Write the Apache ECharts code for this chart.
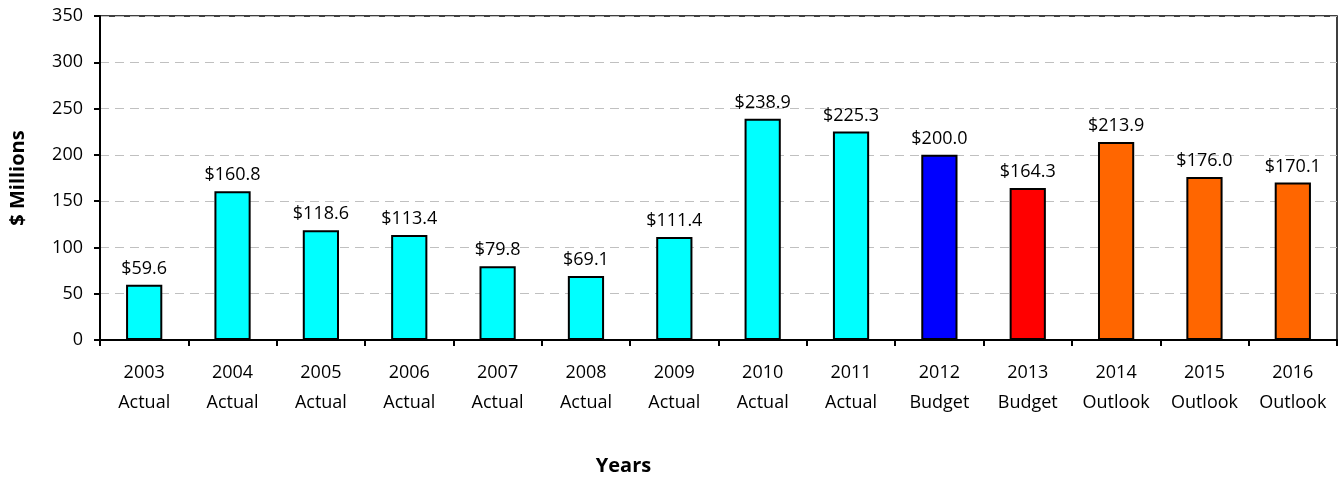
<!DOCTYPE html>
<html>
<head>
<meta charset="utf-8">
<script src="https://cdn.jsdelivr.net/npm/echarts@6/dist/echarts.min.js"></script>
<style>
  html, body { margin: 0; padding: 0; background: #fff; }
  #chart { width: 1341px; height: 477px; }
</style>
</head>
<body>
<div id="chart"></div>
<script>
// Capital spending by year, $ millions
const years = ['2003', '2004', '2005', '2006', '2007', '2008', '2009', '2010', '2011', '2012', '2013', '2014', '2015', '2016'];
const kinds = ['Actual', 'Actual', 'Actual', 'Actual', 'Actual', 'Actual', 'Actual', 'Actual', 'Actual', 'Budget', 'Budget', 'Outlook', 'Outlook', 'Outlook'];
const values = [59.6, 160.8, 118.6, 113.4, 79.8, 69.1, 111.4, 238.9, 225.3, 200.0, 164.3, 213.9, 176.0, 170.1];
const barColors = ['#00FFFF', '#00FFFF', '#00FFFF', '#00FFFF', '#00FFFF', '#00FFFF', '#00FFFF', '#00FFFF', '#00FFFF', '#0000FF', '#FF0000', '#FF6600', '#FF6600', '#FF6600'];
const yTicks = [0, 50, 100, 150, 200, 250, 300, 350];

const FONT = '"Open Sans", Lato, sans-serif';
const categories = years.map((y, i) => y + '\n' + kinds[i]);

const chart = echarts.init(document.getElementById('chart'), null, { renderer: 'canvas' });
chart.setOption({
  animation: false,
  grid: {
    left: 100, right: 4, top: 16, bottom: 137,
    outerBoundsMode: 'none',
    containLabel: false,
    show: true, borderColor: '#000', borderWidth: 1.5, backgroundColor: 'transparent'
  },
  xAxis: {
    type: 'category',
    data: categories,
    name: 'Years',
    nameLocation: 'middle',
    nameGap: 116,
    nameTextStyle: { fontFamily: FONT, fontSize: 20, fontWeight: 'bold', color: '#000', padding: [0, 190, 0, 0] },
    axisLine: { lineStyle: { color: '#000', width: 2 } },
    axisTick: { show: true, length: 6, lineStyle: { color: '#000', width: 2 } },
    axisLabel: { fontFamily: FONT, fontSize: 18, color: '#000', lineHeight: 30, margin: 18 }
  },
  yAxis: {
    type: 'value',
    min: yTicks[0],
    max: yTicks[yTicks.length - 1],
    interval: 50,
    name: '$ Millions',
    nameLocation: 'middle',
    nameGap: 72,
    nameTextStyle: { fontFamily: FONT, fontSize: 20, fontWeight: 'bold', color: '#000' },
    axisLine: { show: true, lineStyle: { color: '#000', width: 2 } },
    axisTick: { show: true, length: 6, lineStyle: { color: '#000', width: 2 } },
    axisLabel: { fontFamily: FONT, fontSize: 18, color: '#000', margin: 17 },
    splitLine: { show: true, lineStyle: { color: '#c0c0c0', type: [9, 6], width: 1 } }
  },
  series: [{
    type: 'bar',
    barWidth: '41%',
    data: values.map((v, i) => ({ value: v, itemStyle: { color: barColors[i] } })),
    itemStyle: { borderColor: '#000', borderWidth: 2 },
    label: {
      show: true,
      position: 'top',
      distance: 7,
      fontFamily: FONT,
      fontSize: 18,
      color: '#000',
      formatter: p => '$' + p.value.toFixed(1)
    }
  }]
});
</script>
</body>
</html>
